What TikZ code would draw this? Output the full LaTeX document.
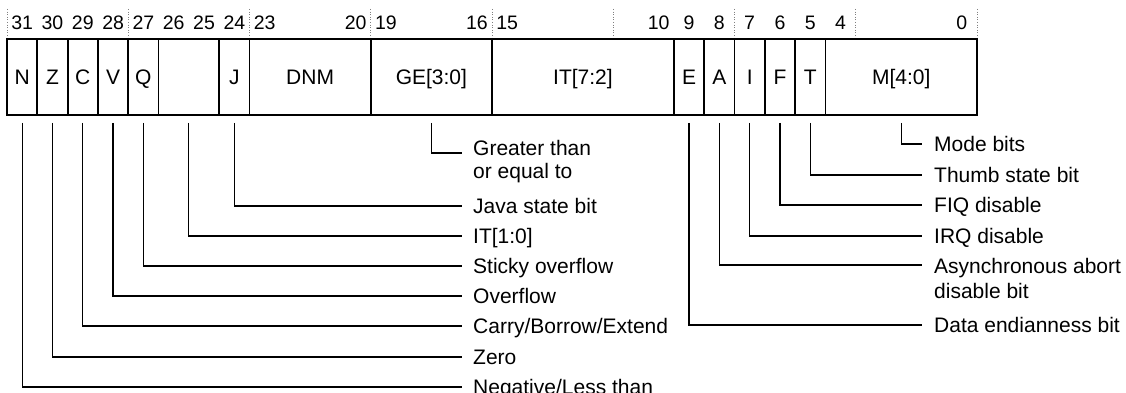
\documentclass[tikz,border=0pt]{standalone}
\usepackage{fontspec}
\setmainfont{Liberation Sans}
\begin{document}
\begin{tikzpicture}[x=1pt,y=-1pt,
  field/.style={draw=black, line width=1.8pt, minimum height=76pt, inner sep=0pt,
    text height=15pt, text depth=0pt, font=\fontsize{21}{23}\selectfont},
  bitnum/.style={anchor=base, inner sep=0pt, font=\fontsize{19.5}{21}\selectfont},
  guide/.style={draw=gray, dotted, line width=0.6pt},
  leader/.style={draw=black, line width=1.2pt},
  lbl/.style={anchor=base west, inner sep=0pt, font=\fontsize{21}{23}\selectfont}]
\useasboundingbox (0,0) rectangle (1126,393);
\def\w{30.3125}
% nibble guides
\foreach \k in {0,...,8}
  \draw[guide] ({7+\k*4*\w},9) -- ({7+\k*4*\w},39);
% bit numbers
\foreach \b in {31,30,29,28,27,26,25,24,23,20,19,16,15,10,9,8,7,6,5,4,0}
  \node[bitnum] (b\b) at ({977-(\b+0.5)*\w},29.5) {\b};
% fields
\foreach \hi/\lo/\nm/\txt in {31/31/N/N, 30/30/Z/Z, 29/29/C/C, 28/28/V/V, 27/27/Q/Q,
    26/25/ITlo/{}, 24/24/J/J, 23/20/DNM/DNM, 19/16/GE/{GE[3:0]}, 15/10/IThi/{IT[7:2]},
    9/9/E/E, 8/8/A/A, 7/7/I/I, 6/6/F/F, 5/5/T/T, 4/0/M/{M[4:0]}}
  \node[field, minimum width={(\hi-\lo+1)*\w*1pt}] (\nm) at ({977-(\hi+\lo+1)/2*\w},77) {\txt};
% leader end points
\coordinate (e-GE) at (462,153);
\coordinate (e-J) at (462,206);
\coordinate (e-ITlo) at (462,236);
\coordinate (e-Q) at (462,266);
\coordinate (e-V) at (462,296);
\coordinate (e-C) at (462,326);
\coordinate (e-Z) at (462,357);
\coordinate (e-N) at (462,387);
\coordinate (e-M) at (922,144);
\coordinate (e-T) at (922,175);
\coordinate (e-F) at (922,205);
\coordinate (e-I) at (922,236);
\coordinate (e-A) at (922,265);
\coordinate (e-E) at (922,325);
% leaders
\foreach \nm in {GE,J,ITlo,Q,V,C,Z,N,M,T,F,I,A,E}
  \draw[leader] ([yshift=-7pt]\nm.south) |- (e-\nm);
% labels
\node[lbl] (l-GE) at ([xshift=11pt,yshift=-2pt]e-GE) {\begin{tabular}[t]{@{}l@{}}Greater than\\[0pt]or equal to\end{tabular}};
\node[lbl] (l-J) at ([xshift=11pt,yshift=-7pt]e-J) {Java state bit};
\node[lbl] (l-ITlo) at ([xshift=11pt,yshift=-7pt]e-ITlo) {IT[1:0]};
\node[lbl] (l-Q) at ([xshift=11pt,yshift=-7pt]e-Q) {Sticky overflow};
\node[lbl] (l-V) at ([xshift=11pt,yshift=-7pt]e-V) {Overflow};
\node[lbl] (l-C) at ([xshift=11pt,yshift=-7pt]e-C) {Carry/Borrow/Extend};
\node[lbl] (l-Z) at ([xshift=11pt,yshift=-7pt]e-Z) {Zero};
\node[lbl] (l-N) at ([xshift=11pt,yshift=-7pt]e-N) {Negative/Less than};
\node[lbl] (l-M) at ([xshift=12pt,yshift=-7pt]e-M) {Mode bits};
\node[lbl] (l-T) at ([xshift=12pt,yshift=-7pt]e-T) {Thumb state bit};
\node[lbl] (l-F) at ([xshift=12pt,yshift=-7pt]e-F) {FIQ disable};
\node[lbl] (l-I) at ([xshift=12pt,yshift=-7pt]e-I) {IRQ disable};
\node[lbl] (l-A) at ([xshift=12pt,yshift=-8pt]e-A) {\begin{tabular}[t]{@{}l@{}}Asynchronous abort\\[2pt]disable bit\end{tabular}};
\node[lbl] (l-E) at ([xshift=12pt,yshift=-7pt]e-E) {Data endianness bit};
\end{tikzpicture}
\end{document}
